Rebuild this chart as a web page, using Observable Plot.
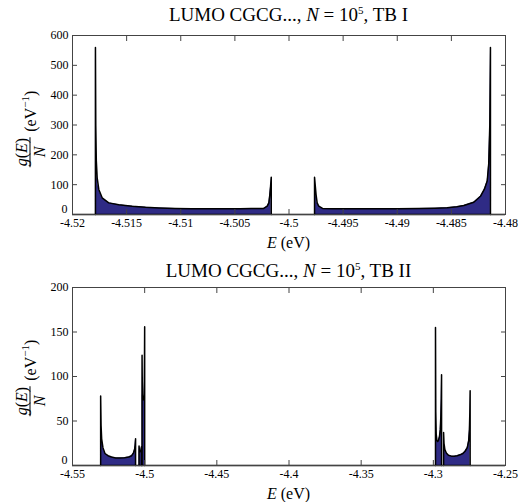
<!DOCTYPE html>
<html>
<head>
<meta charset="utf-8">
<script src="https://cdn.jsdelivr.net/npm/d3@7"></script>
<script src="https://cdn.jsdelivr.net/npm/@observablehq/plot@0.6"></script>
<style>
  html, body { margin: 0; padding: 0; background: #fff; }
  #root { position: relative; width: 530px; height: 502px; font-family: "Liberation Serif", "Times New Roman", Tinos, "DejaVu Serif", "Noto Serif", Times, serif; color: #000; }
  .title { position: absolute; left: 72px; width: 433px; text-align: center; font-size: 19px; line-height: 20px; white-space: nowrap; }
  .xlab { position: absolute; left: 72px; width: 433px; text-align: center; font-size: 16px; line-height: 18px; }
  .ylab { position: absolute; width: 0; height: 0; }
  .ylab > div { position: absolute; transform: translate(-50%, -50%) rotate(-90deg); display: flex; align-items: center; white-space: nowrap; font-size: 16px; }
  .frac { display: inline-flex; flex-direction: column; align-items: center; margin-right: 5px; }
  .frac .num { border-bottom: 1px solid #000; padding: 0 1px; line-height: 17px; }
  .frac .den { line-height: 17px; }
  sup { font-size: 11px; line-height: 0; }
  .panel { position: absolute; left: 0; }
</style>
</head>
<body>
<div id="root">
  <div class="title" style="top:5px">LUMO CGCG..., <i>N</i> = 10<sup>5</sup>, TB I</div>
  <div class="panel" id="p1" style="top:0px"></div>
  <div class="xlab" style="top:234px"><i>E</i> (eV)</div>
  <div class="ylab" style="left:30px; top:129px"><div><span class="frac"><span class="num"><i>g</i>(<i>E</i>)</span><span class="den"><i>N</i></span></span><span>(eV<sup>−1</sup>)</span></div></div>

  <div class="title" style="top:261px">LUMO CGCG..., <i>N</i> = 10<sup>5</sup>, TB II</div>
  <div class="panel" id="p2" style="top:252px"></div>
  <div class="xlab" style="top:485px"><i>E</i> (eV)</div>
  <div class="ylab" style="left:30px; top:378px"><div><span class="frac"><span class="num"><i>g</i>(<i>E</i>)</span><span class="den"><i>N</i></span></span><span>(eV<sup>−1</sup>)</span></div></div>
</div>
<script>
// ---------- Panel 1 (TB I) data ----------
const top1LeftE = [-4.51788, -4.51788, -4.51785, -4.51780, -4.51772, -4.51757, -4.51726, -4.51665, -4.51572, -4.51449, -4.51326, -4.5120, -4.5105, -4.5090, -4.5075, -4.5060, -4.5045, -4.5035, -4.50233, -4.50201, -4.50186, -4.50177, -4.50170, -4.50164, -4.50164];
const top1LeftG = [0, 560, 300, 180, 123, 84, 56, 39, 33, 28, 24, 22, 20.5, 19.5, 19, 19, 19.5, 20, 20.5, 28, 39, 67, 95, 125, 0];
const top1RightE = [-4.49764, -4.49764, -4.49757, -4.49750, -4.49740, -4.49725, -4.4969, -4.4960, -4.4945, -4.4930, -4.4915, -4.4900, -4.4880, -4.4865, -4.48539, -4.4845, -4.48385, -4.48293, -4.48231, -4.48195, -4.48169, -4.48155, -4.48145, -4.48139, -4.48139];
const top1RightG = [0, 125, 95, 67, 39, 28, 20.5, 19.5, 19, 19, 19, 19.5, 20, 21, 22.5, 26, 30, 41, 61, 85, 112, 170, 300, 560, 0];
const xTicks1 = [-4.52, -4.515, -4.51, -4.505, -4.5, -4.495, -4.49, -4.485, -4.48];
const xLabels1 = ["-4.52", "-4.515", "-4.51", "-4.505", "-4.5", "-4.495", "-4.49", "-4.485", "-4.48"];
const yTicks1 = [0, 100, 200, 300, 400, 500, 600];

// ---------- Panel 2 (TB II) data ----------
const b2L1E = [-4.5305, -4.5305, -4.5302, -4.5298, -4.5289, -4.5275, -4.5254, -4.5230, -4.5200, -4.5170, -4.5140, -4.5110, -4.5090, -4.5078, -4.5070, -4.5066, -4.5063, -4.5063];
const b2L1G = [0, 78, 45, 30, 20, 13.5, 11, 9.5, 8.5, 8.5, 8.8, 9.5, 11, 14, 18, 23, 30, 0];
const b2L2E = [-4.5039, -4.5039, -4.5036, -4.5032, -4.5028, -4.5025, -4.5022, -4.5022];
const b2L2G = [0, 22, 17, 15.5, 16, 18, 21, 0];
const b2L3E = [-4.5018, -4.5018, -4.5016, -4.5012, -4.5008, -4.5004, -4.5002, -4.5000, -4.5000];
const b2L3G = [0, 124, 80, 74, 74, 78, 95, 156, 0];
const b2AE = [-4.2985, -4.2985, -4.2983, -4.2980, -4.2975, -4.2970, -4.2965, -4.2958, -4.2952, -4.2948, -4.2945, -4.2943, -4.2943];
const b2AG = [0, 155, 60, 35, 28, 27, 28, 32, 40, 55, 75, 102, 0];
const b2BE = [-4.2929, -4.2929, -4.2926, -4.2920, -4.2910, -4.2895, -4.2875, -4.2855, -4.2835, -4.2815, -4.2795, -4.2780, -4.2765, -4.2755, -4.2750, -4.2747, -4.2745, -4.2745];
const b2BG = [0, 37, 25, 18, 14, 11.5, 10.5, 10.5, 11, 12, 13.5, 16, 20, 28, 40, 60, 84, 0];
const xTicks2 = [-4.55, -4.5, -4.45, -4.4, -4.35, -4.3, -4.25];
const xLabels2 = ["-4.55", "-4.5", "-4.45", "-4.4", "-4.35", "-4.3", "-4.25"];
const yTicks2 = [0, 50, 100, 150, 200];

const fillColor = "#2f2b85";
const serif = "'Liberation Serif', 'Times New Roman', Tinos, 'DejaVu Serif', 'Noto Serif', Times, serif";

function bands(list) {
  const out = [];
  list.forEach(([name, E, G]) => E.forEach((e, i) => out.push({band: name, E: e, g: G[i]})));
  return out;
}

function panel(data, xDomain, yDomain, xTicks, xLabels, yTicks, height, marginBottom) {
  const xFmt = new Map(xTicks.map((t, i) => [t, xLabels[i]]));
  const yZero = yTicks.filter(t => t === 0);
  const yRest = yTicks.filter(t => t !== 0);
  return Plot.plot({
    width: 530,
    height,
    marginLeft: 72,
    marginRight: 25,
    marginTop: 35,
    marginBottom,
    x: {domain: xDomain},
    y: {domain: yDomain},
    style: {fontFamily: serif, fontSize: "12px", color: "#000", background: "transparent", overflow: "visible"},
    marks: [
      Plot.areaY(data, {x: "E", y: "g", z: "band", fill: fillColor, curve: "linear"}),
      Plot.lineY(data, {x: "E", y: "g", z: "band", stroke: "#000", strokeWidth: 1.5, curve: "linear"}),
      Plot.ruleY([0], {stroke: "#000", strokeWidth: 1.5}),
      Plot.frame({stroke: "#444", strokeWidth: 1}),
      Plot.axisX(xTicks, {anchor: "bottom", tickSize: -5, tickPadding: 9, tickFormat: d => xFmt.get(d), label: null, stroke: "#444"}),
      Plot.axisX(xTicks, {anchor: "top", tickSize: -5, tickFormat: () => "", label: null, stroke: "#444"}),
      Plot.axisY(yRest, {anchor: "left", tickSize: -5, tickPadding: 9, label: null, stroke: "#444"}),
      Plot.axisY(yZero, {anchor: "left", tickSize: 0, tickPadding: 5, dy: -5, label: null, stroke: "#444"}),
      Plot.axisY(yTicks, {anchor: "right", tickSize: -5, tickFormat: () => "", label: null, stroke: "#444"})
    ]
  });
}

const data1 = bands([["L", top1LeftE, top1LeftG], ["R", top1RightE, top1RightG]]);
const data2 = bands([["L1", b2L1E, b2L1G], ["L2", b2L2E, b2L2G], ["L3", b2L3E, b2L3G], ["A", b2AE, b2AG], ["B", b2BE, b2BG]]);

document.getElementById("p1").appendChild(panel(data1, [-4.52, -4.48], [0, 600], xTicks1, xLabels1, yTicks1, 240, 26));
document.getElementById("p2").appendChild(panel(data2, [-4.55, -4.25], [0, 200], xTicks2, xLabels2, yTicks2, 233, 20));
</script>
</body>
</html>
